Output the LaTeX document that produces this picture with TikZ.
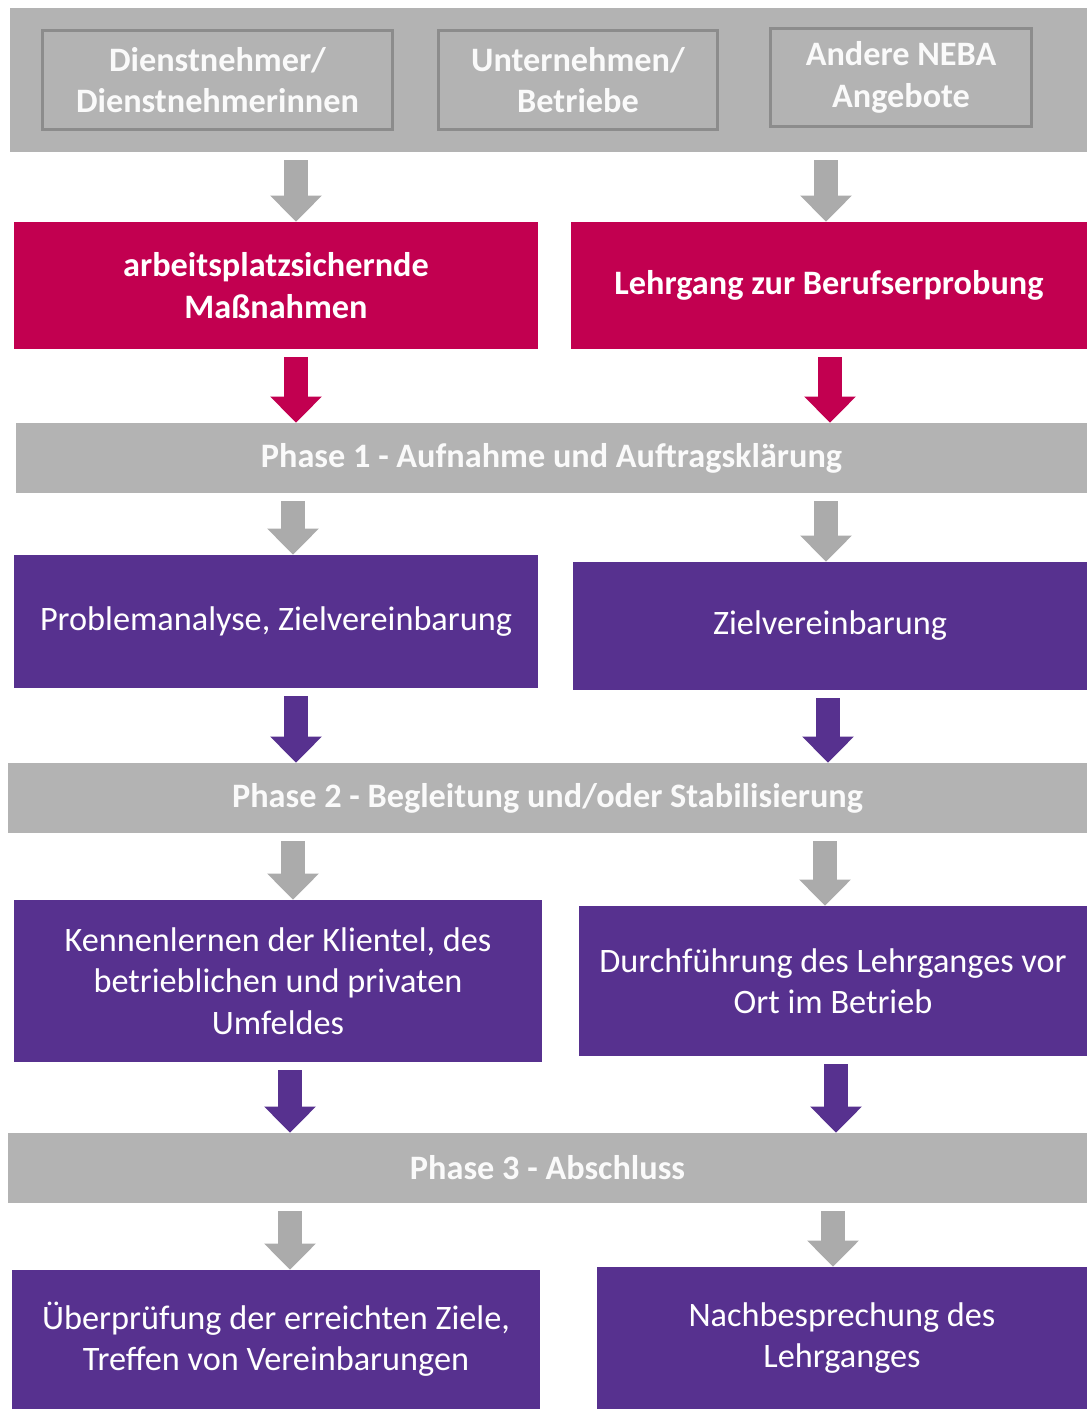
\documentclass[tikz,border=0pt]{standalone}
\usepackage{fontspec}
\setmainfont{Carlito}
\usetikzlibrary{arrows.meta}
\definecolor{balken}{HTML}{B3B3B3}
\definecolor{rahmen}{HTML}{8C8C8C}
\definecolor{pfeilgrau}{HTML}{ABABAB}
\definecolor{nebarot}{HTML}{C20050}
\definecolor{nebalila}{HTML}{57318F}

\begin{document}
\begin{tikzpicture}[x=0.02cm, y=-0.02cm,
    every node/.style={font=\fontsize{19.5}{23.5}\selectfont, text=white, align=center, inner sep=0pt},
    band/.style={fill=balken, minimum height=1.4cm, font=\fontsize{19.5}{23.5}\selectfont\bfseries, text=white!94!balken},
    quelle/.style={fill=balken, draw=rahmen, line width=0.06cm, font=\fontsize{19.5}{23.5}\selectfont\bfseries, text=white!94!balken},
    rotbox/.style={fill=nebarot, font=\fontsize{19.5}{23.5}\selectfont\bfseries},
    lilabox/.style={fill=nebalila},
    pfeil/.style={line width=0.48cm, -{Triangle[width=1cm, length=0.52cm]}}]
    \useasboundingbox (0,0) rectangle (1087,1409);

    % Zugang
    \node[fill=balken, minimum width=21.54cm, minimum height=2.88cm] (top) at (548.5,80) {};
    \node[quelle, minimum width=7.02cm, minimum height=2cm] (src1) at (217.5,80) {Dienstnehmer/\\Dienstnehmerinnen};
    \node[quelle, minimum width=5.6cm, minimum height=2cm] (src2) at (578,80) {Unternehmen/\\Betriebe};
    \node[quelle, minimum width=5.24cm, minimum height=1.98cm] (src3) at (901,77.5) {Andere NEBA\\Angebote};

    % Angebote
    \node[rotbox, minimum width=10.48cm, minimum height=2.54cm] (rotA) at (276,285.5) {arbeitsplatzsichernde\\Maßnahmen};
    \node[rotbox, minimum width=10.32cm, minimum height=2.54cm] (rotB) at (829,285.5) {Lehrgang zur Berufserprobung};

    % Phasen
    \node[band, minimum width=21.42cm] (ph1) at (551.5,458) {Phase 1 - Aufnahme und Auftragsklärung};
    \node[lilabox, minimum width=10.48cm, minimum height=2.66cm] (lilaA1) at (276,621.5) {Problemanalyse, Zielvereinbarung};
    \node[lilabox, minimum width=10.28cm, minimum height=2.56cm] (lilaB1) at (830,626) {Zielvereinbarung};

    \node[band, minimum width=21.58cm] (ph2) at (547.5,798) {Phase 2 - Begleitung und/oder Stabilisierung};
    \node[lilabox, minimum width=10.56cm, minimum height=3.24cm] (lilaA2) at (278,981) {Kennenlernen der Klientel, des\\betrieblichen und privaten\\Umfeldes};
    \node[lilabox, minimum width=10.16cm, minimum height=3cm] (lilaB2) at (833,981) {Durchführung des Lehrganges vor\\Ort im Betrieb};

    \node[band, minimum width=21.58cm] (ph3) at (547.5,1168) {Phase 3 - Abschluss};
    \node[lilabox, minimum width=10.56cm, minimum height=2.78cm] (lilaA3) at (276,1339.5) {Überprüfung der erreichten Ziele,\\Treffen von Vereinbarungen};
    \node[lilabox, minimum width=9.8cm, minimum height=2.84cm] (lilaB3) at (842,1338) {Nachbesprechung des\\Lehrganges};

    % Pfeile
    \foreach \a/\b/\x/\farbe in {top/rotA/296/pfeilgrau, top/rotB/826/pfeilgrau,
        rotA/ph1/296/nebarot, rotB/ph1/830/nebarot,
        ph1/lilaA1/293/pfeilgrau, ph1/lilaB1/826/pfeilgrau,
        lilaA1/ph2/296/nebalila, lilaB1/ph2/828/nebalila,
        ph2/lilaA2/293/pfeilgrau, ph2/lilaB2/825/pfeilgrau,
        lilaA2/ph3/290/nebalila, lilaB2/ph3/836/nebalila,
        ph3/lilaA3/290/pfeilgrau, ph3/lilaB3/833/pfeilgrau}
    {
        \draw[pfeil, draw=\farbe] ([yshift=-0.16cm]\a.south -| \x,0) -- (\b.north -| \x,0);
    }
\end{tikzpicture}
\end{document}
